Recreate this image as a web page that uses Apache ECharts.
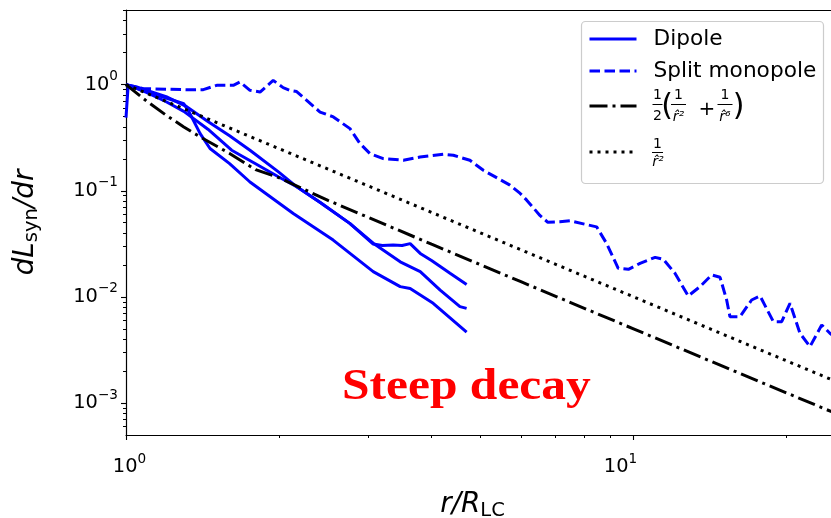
<!DOCTYPE html>
<html><head><meta charset="utf-8">
<script src="https://cdn.jsdelivr.net/npm/echarts@6/dist/echarts.min.js"></script>
<style>html,body{margin:0;padding:0;background:#fff}#c{width:831px;height:518px}</style>
</head><body><div id="c"></div>
<script>
// ---- data ----
const dipoleA = [[1,1],[1.05,0.95],[1.1,0.88],[1.2,0.77],[1.317,0.62],[1.45,0.45],[1.6,0.33],[1.755,0.241],[2.0,0.15],[2.17,0.109],[2.41,0.078],[2.76,0.0493],[3.07,0.0315],[3.2,0.0305],[3.36,0.0308],[3.5,0.0305],[3.63,0.0318],[3.8,0.0257],[4.0,0.022],[4.35,0.0167],[4.69,0.0131]];
const dipoleB = [[1,0.49],[1.01,0.99],[1.1,0.84],[1.2,0.69],[1.3,0.56],[1.45,0.38],[1.615,0.241],[1.8,0.18],[2.0,0.135],[2.17,0.109],[2.41,0.078],[2.76,0.0493],[3.07,0.0321],[3.47,0.0214],[3.8,0.0173],[4.16,0.0116],[4.55,0.0081],[4.69,0.0078]];
const dipoleC = [[1,1],[1.13,0.82],[1.3,0.66],[1.327,0.57],[1.4,0.346],[1.464,0.25],[1.6,0.18],[1.755,0.121],[2.136,0.0611],[2.56,0.0343],[3.07,0.0173],[3.47,0.0125],[3.63,0.012],[4.03,0.0087],[4.69,0.00465]];
const splitMonopole = [[1,1],[1.082,0.917],[1.317,0.897],[1.42,0.897],[1.509,0.985],[1.627,0.985],[1.677,1.058],[1.755,0.884],[1.837,0.852],[1.95,1.098],[2.04,0.937],[2.104,0.884],[2.169,0.86],[2.412,0.552],[2.562,0.496],[2.763,0.385],[2.89,0.279],[3.026,0.224],[3.213,0.201],[3.52,0.194],[3.796,0.208],[4.218,0.221],[4.416,0.216],[4.76,0.194],[5.06,0.156],[5.71,0.113],[5.98,0.0944],[6.16,0.0816],[6.54,0.0586],[6.78,0.0505],[7.16,0.051],[7.5,0.0521],[8.46,0.0457],[8.85,0.0319],[9.33,0.0186],[9.77,0.0182],[10.3,0.0207],[11.03,0.0236],[11.45,0.0226],[12.07,0.0167],[12.82,0.0102],[13.52,0.0125],[14.26,0.0161],[14.81,0.0153],[15.26,0.00935],[15.49,0.00652],[16.21,0.00652],[17.09,0.00935],[17.76,0.0102],[18.86,0.00585],[19.59,0.00585],[20.34,0.0087],[21.28,0.00455],[22.27,0.0034],[23.49,0.00544],[24.38,0.00455],[25.6,0.0038]];
const guideHalf = [[1,1],[1.1,0.695],[1.2,0.515],[1.3,0.399],[1.4,0.322],[1.6,0.225],[1.8,0.158],[2,0.133],[2.5,0.0812],[3,0.0562],[4,0.0314],[6,0.0139],[10,0.005],[16,0.00195],[25.6,0.000763]];
const guideInv2 = [[1,1],[25.6,0.00153]];
const xMajorTicks = [1, 10];
const xMinorTicks = [2,3,4,5,6,7,8,9,20];
const yMajorTicks = [0.001, 0.01, 0.1, 1];
const yMinorTicks = [0.0006,0.0007,0.0008,0.0009,0.002,0.003,0.004,0.005,0.006,0.007,0.008,0.009,0.02,0.03,0.04,0.05,0.06,0.07,0.08,0.09,0.2,0.3,0.4,0.5,0.6,0.7,0.8,0.9,2,3,4,5];

// ---- chart ----
const chart = echarts.init(document.getElementById('c'), null, {renderer:'canvas'});
const F = 'DejaVu Sans';
function powText(v){
  const e = Math.round(Math.log10(v));
  const s = e < 0 ? '\u2212' + (-e) : String(e);
  return {e:e, s:s};
}
function yLabel(v){ const p = powText(v); return '{b|10}{s|' + p.s + '}'; }
function xLabel(v){
  const p = powText(v);
  if (p.e === 0) return '{bx0|10}{s|' + p.s + '}';
  return '{b|10}{sx1|' + p.s + '}';
}
const tickRich = {
  b:{fontFamily:F,fontSize:19.4,color:'#000'},
  bx0:{fontFamily:F,fontSize:19.4,color:'#000',padding:[0,0,0,7]},
  s:{fontFamily:F,fontSize:13.6,color:'#000',padding:[0,0,16,0]},
  sx1:{fontFamily:F,fontSize:13.6,color:'#000',padding:[0,26,16,0]}
};
const X = {min:1, max:24.5};
const Y = {min:0.0005, max:5.05};
const blue = '#0000ff';
const base = {type:'line', symbol:'none', showSymbol:false, smooth:false, animation:false, z:2};
function mt(x, y, text, font){
  return {type:'text', x:x, y:y, z:100, style:{text:text, font:font, fill:'#000', align:'center', verticalAlign:'middle'}};
}
function bar(x1, x2, y){
  return {type:'line', z:100, shape:{x1:x1,y1:y,x2:x2,y2:y}, style:{stroke:'#000', lineWidth:1}};
}
const f14 = '14px "DejaVu Sans"', i14 = 'italic 14px "DejaVu Sans"';
const legendCommon = {
  orient:'vertical', left:588, padding:0, itemGap:8, itemWidth:47, itemHeight:20,
  itemStyle:{opacity:0}, lineStyle:{width:3}, selectedMode:false, z:50,
  textStyle:{fontFamily:F, fontSize:21.7, color:'#000', padding:[0,0,0,12], lineHeight:24}
};

const option = {
  animation:false,
  backgroundColor:'#fff',
  grid:{left:126, top:10, right:0, bottom:83, show:false, containLabel:false, outerBoundsMode:'none'},
  legend:[
    Object.assign({}, legendCommon, {data:['Dipole','Split monopole'], top:27}),
    Object.assign({}, legendCommon, {data:['half'], top:98, formatter:function(){return '';}}),
    Object.assign({}, legendCommon, {data:['inv2'], top:144, formatter:function(){return '';}})
  ],
  xAxis:[
    {type:'log', logBase:10, min:X.min, max:X.max, gridIndex:0, position:'bottom',
     name:'{i|r/R}{sub|LC}', nameLocation:'middle', nameGap:54,
     nameTextStyle:{padding:[0,12,0,0], rich:{i:{fontFamily:F,fontStyle:'italic',fontSize:27.8,color:'#000'},
                          sub:{fontFamily:F,fontSize:19.5,color:'#000',padding:[12,0,0,0]}}},
     axisLine:{show:true, lineStyle:{color:'#000',width:1.2}},
     axisTick:{show:true, length:5, lineStyle:{color:'#000',width:1.1}, customValues:xMajorTicks},
     axisLabel:{show:true, margin:17, customValues:xMajorTicks, formatter:xLabel, rich:tickRich},
     splitLine:{show:false}, minorTick:{show:false}},
    {type:'log', logBase:10, min:X.min, max:X.max, gridIndex:0, position:'bottom',
     axisLine:{show:false}, axisLabel:{show:false}, splitLine:{show:false},
     axisTick:{show:true, length:3, lineStyle:{color:'#000',width:1}, customValues:xMinorTicks}},
    {type:'log', logBase:10, min:X.min, max:X.max, gridIndex:0, position:'top',
     axisLine:{show:true, lineStyle:{color:'#000',width:1.2}}, axisLabel:{show:false}, axisTick:{show:false}, splitLine:{show:false}}
  ],
  yAxis:[
    {type:'log', logBase:10, min:Y.min, max:Y.max, gridIndex:0, position:'left',
     name:'{i|dL}{sub|syn}{i|/dr}', nameLocation:'middle', nameGap:84, nameRotate:90,
     nameTextStyle:{rich:{i:{fontFamily:F,fontStyle:'italic',fontSize:27.8,color:'#000'},
                          sub:{fontFamily:F,fontSize:19.5,color:'#000',padding:[12,0,0,0]}}},
     axisLine:{show:true, lineStyle:{color:'#000',width:1.2}},
     axisTick:{show:true, length:5, lineStyle:{color:'#000',width:1.1}, customValues:yMajorTicks},
     axisLabel:{show:true, margin:8, customValues:yMajorTicks, formatter:yLabel, rich:tickRich},
     splitLine:{show:false}},
    {type:'log', logBase:10, min:Y.min, max:Y.max, gridIndex:0, position:'left', offset:0,
     axisLine:{show:false}, axisLabel:{show:false}, splitLine:{show:false},
     axisTick:{show:true, length:3, lineStyle:{color:'#000',width:1}, customValues:yMinorTicks}}
  ],
  series:[
    Object.assign({}, base, {name:'Dipole', data:dipoleA, lineStyle:{color:blue,width:3}, itemStyle:{color:blue}}),
    Object.assign({}, base, {name:'Dipole', data:dipoleB, lineStyle:{color:blue,width:3}, itemStyle:{color:blue}}),
    Object.assign({}, base, {name:'Dipole', data:dipoleC, lineStyle:{color:blue,width:3}, itemStyle:{color:blue}}),
    Object.assign({}, base, {name:'Split monopole', data:splitMonopole, lineStyle:{color:blue,width:3,type:[10.5,4.5]}, itemStyle:{color:blue}}),
    Object.assign({}, base, {name:'half', data:guideHalf, lineStyle:{color:'#000',width:3,type:[18,5,3,5]}, itemStyle:{color:'#000'}}),
    Object.assign({}, base, {name:'inv2', data:guideInv2, lineStyle:{color:'#000',width:3,type:[3,5]}, itemStyle:{color:'#000'}})
  ],
  graphic:[
    {type:'rect', z:40, shape:{x:581.5, y:21.5, width:242, height:162, r:4},
     style:{fill:'rgba(255,255,255,0.85)', stroke:'#cccccc', lineWidth:1.2}},
    {type:'text', x:342, y:366, scaleX:1.125, z:10, style:{text:'Steep decay', fill:'#ff0000', font:'bold 44px "Liberation Serif"'}},
    // legend math: 1/2 ( 1/r^2 + 1/r^6 )
    mt(657.5, 95, '1', f14), bar(652.5, 662.5, 104.5), mt(657.5, 116, '2', f14),
    mt(667, 107, '(', '30px "DejaVu Sans"'),
    mt(678.5, 95, '1', f14), bar(671, 686, 104.5), mt(678.5, 117, 'r\u0302\u00b2', i14),
    mt(707, 110, '+', '20px "DejaVu Sans"'),
    mt(725, 95, '1', f14), bar(717.5, 732.5, 104.5), mt(725, 117, 'r\u0302\u2076', i14),
    mt(738.5, 107, ')', '30px "DejaVu Sans"'),
    // 1/r^2
    mt(657.5, 144, '1', f14), bar(652, 663, 152.5), mt(658, 162, 'r\u0302\u00b2', i14)
  ]
};
chart.setOption(option);
</script></body></html>
